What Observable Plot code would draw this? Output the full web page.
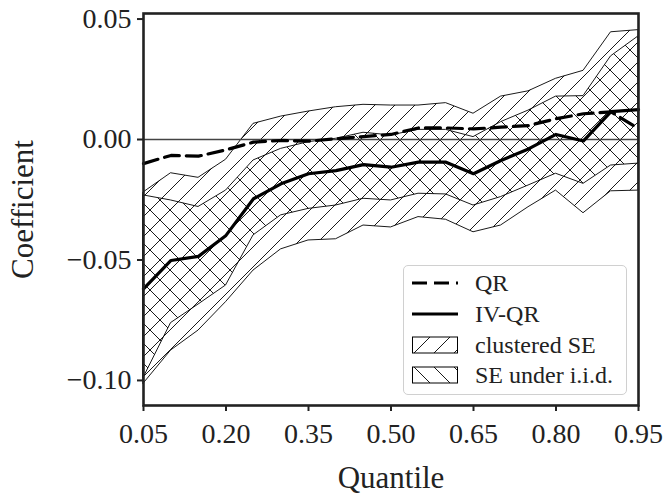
<!DOCTYPE html>
<html>
<head>
<meta charset="utf-8">
<script src="https://cdn.jsdelivr.net/npm/d3@7"></script>
<script src="https://cdn.jsdelivr.net/npm/@observablehq/plot@0.6"></script>
<style>
  html, body { margin: 0; padding: 0; background: #fff; }
  #wrap { position: relative; width: 667px; height: 500px; font-family: "Liberation Serif", serif; }
  #legend { position: absolute; left: 403px; top: 265px; width: 224px; height: 130px; box-sizing: border-box;
    border: 1.5px solid #d0d0d0; border-radius: 5px; background: rgba(255,255,255,0.85); }
  .row { position: absolute; left: 0; height: 24px; display: flex; align-items: center; }
  .row svg { margin-left: 8px; }
  .row span { position: absolute; left: 71px; font-size: 24px; color: #222; white-space: nowrap; line-height: 24px; }
</style>
</head>
<body>
<div id="wrap"></div>
<script>
const quantiles = [0.05,0.10,0.15,0.20,0.25,0.30,0.35,0.40,0.45,0.50,0.55,0.60,0.65,0.70,0.75,0.80,0.85,0.90,0.95];
const qrCoef   = [-0.0100,-0.0066,-0.0069,-0.0043,-0.0011,-0.0004,-0.0007,0.0003,0.0012,0.0021,0.0048,0.0048,0.0044,0.0051,0.0058,0.0086,0.0107,0.0115,0.0045];
const ivqrCoef = [-0.0620,-0.0502,-0.0485,-0.0398,-0.0246,-0.0184,-0.0142,-0.0129,-0.0104,-0.0115,-0.0094,-0.0094,-0.0142,-0.0087,-0.0039,0.0021,-0.0006,0.0116,0.0124];
const clusteredHi = [-0.0220,-0.0140,-0.0159,-0.0084,0.0065,0.0095,0.0116,0.0134,0.0144,0.0141,0.0141,0.0151,0.0107,0.0178,0.0200,0.0252,0.0285,0.0445,0.0454];
const clusteredLo = [-0.1014,-0.0876,-0.0793,-0.0675,-0.0544,-0.0456,-0.0419,-0.0414,-0.0357,-0.0365,-0.0322,-0.0333,-0.0385,-0.0357,-0.0281,-0.0212,-0.0306,-0.0215,-0.0212];
const iidHi = [-0.0232,-0.0253,-0.0280,-0.0212,-0.0087,-0.0039,-0.0011,0.0003,0.0028,0.0017,0.0040,0.0040,0.0010,0.0072,0.0120,0.0178,0.0180,0.0345,0.0428];
const iidLo = [-0.0990,-0.0762,-0.0685,-0.0606,-0.0398,-0.0315,-0.0288,-0.0274,-0.0246,-0.0253,-0.0225,-0.0228,-0.0274,-0.0239,-0.0191,-0.0142,-0.0184,-0.0108,-0.0100];
const xTicks = [0.05,0.20,0.35,0.50,0.65,0.80,0.95];
const yTicks = [-0.10,-0.05,0.00,0.05];
const legendLabels = ["QR","IV-QR","clustered SE","SE under i.i.d."];

const rows = quantiles.map((q, i) => ({
  q, qr: qrCoef[i], iv: ivqrCoef[i],
  cLo: clusteredLo[i], cHi: clusteredHi[i], iLo: iidLo[i], iHi: iidHi[i]
}));

const fmt = d => (d < 0 ? "\u2212" : "") + Math.abs(d).toFixed(2);

const svg = Plot.plot({
  width: 667, height: 500,
  marginLeft: 143, marginRight: 29, marginTop: 13, marginBottom: 95,
  style: { fontFamily: "Liberation Serif, serif", background: "#fff", color: "#222" },
  x: { domain: [0.05, 0.95] },
  y: { domain: [-0.1104, 0.0523] },
  marks: [
    Plot.areaY(rows, { x: "q", y1: "cLo", y2: "cHi", fill: "url(#hatchFwd)", stroke: "#000", strokeWidth: 0.9 }),
    Plot.areaY(rows, { x: "q", y1: "iLo", y2: "iHi", fill: "url(#hatchBack)", stroke: "#000", strokeWidth: 0.9 }),
    Plot.ruleY([0], { stroke: "#444", strokeWidth: 1.4 }),
    Plot.line(rows, { x: "q", y: "qr", stroke: "#000", strokeWidth: 3.2, strokeDasharray: "15,7" }),
    Plot.line(rows, { x: "q", y: "iv", stroke: "#000", strokeWidth: 3.2 }),
    Plot.frame({ stroke: "#222", strokeWidth: 2.6 }),
    Plot.axisX({ ticks: xTicks, tickFormat: d => d.toFixed(2), tickSize: 6, tickPadding: 12, strokeWidth: 2,
      fontSize: 28, label: "Quantile", labelAnchor: "center", labelOffset: 82, labelArrow: "none" }),
    Plot.axisY({ ticks: yTicks, tickFormat: fmt, tickSize: 6, tickPadding: 6, strokeWidth: 2,
      fontSize: 28, label: "Coefficient", labelAnchor: "center", labelOffset: 133, labelArrow: "none" })
  ]
});

const S = 20;
d3.select(svg).insert("defs", ":first-child").html(`
  <pattern id="hatchFwd" patternUnits="userSpaceOnUse" width="${S}" height="${S}">
    <path d="M0,${S} L${S},0 M${-S/2},${S/2} L${S/2},${-S/2} M${S/2},${S*1.5} L${S*1.5},${S/2}" stroke="#000" stroke-width="0.9" fill="none"/>
  </pattern>
  <pattern id="hatchBack" patternUnits="userSpaceOnUse" width="${S}" height="${S}">
    <path d="M0,0 L${S},${S} M${-S/2},${S/2} L${S/2},${S*1.5} M${S/2},${-S/2} L${S*1.5},${S/2}" stroke="#000" stroke-width="0.9" fill="none"/>
  </pattern>`);

// enlarge the axis titles
d3.select(svg).selectAll('[aria-label="x-axis label"], [aria-label="y-axis label"]').attr("font-size", 31);

const wrap = document.getElementById("wrap");
wrap.appendChild(svg);

const legend = document.createElement("div");
legend.id = "legend";
const icons = [
  `<svg width="46" height="20"><line x1="0" y1="10" x2="46" y2="10" stroke="#000" stroke-width="3.2" stroke-dasharray="15,7"/></svg>`,
  `<svg width="46" height="20"><line x1="0" y1="10" x2="46" y2="10" stroke="#000" stroke-width="3.2"/></svg>`,
  `<svg width="46" height="20"><rect x="0.5" y="2" width="45" height="16" fill="url(#hatchFwd)" stroke="#000" stroke-width="1"/></svg>`,
  `<svg width="46" height="20"><rect x="0.5" y="2" width="45" height="16" fill="url(#hatchBack)" stroke="#000" stroke-width="1"/></svg>`
];
const centers = [17, 48, 79, 109];
legend.innerHTML = legendLabels.map((lab, i) =>
  `<div class="row" style="top:${centers[i] - 12}px">${icons[i]}<span>${lab}</span></div>`).join("");
wrap.appendChild(legend);
</script>
</body>
</html>
